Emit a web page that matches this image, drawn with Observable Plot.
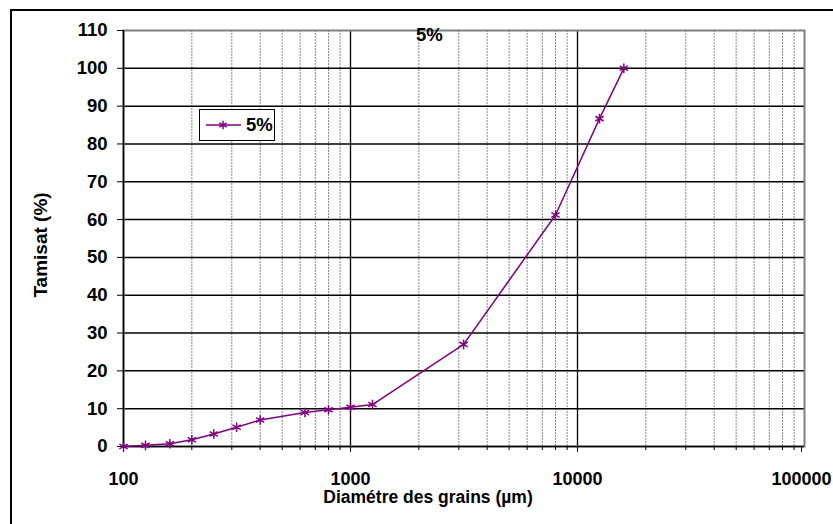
<!DOCTYPE html>
<html>
<head>
<meta charset="utf-8">
<script src="https://cdn.jsdelivr.net/npm/d3@7"></script>
<script src="https://cdn.jsdelivr.net/npm/@observablehq/plot@0.6"></script>
<style>
  html, body { margin: 0; padding: 0; background: #fff; }
  #wrap { position: relative; width: 833px; height: 524px; overflow: hidden; font-family: "Liberation Sans", Arial, sans-serif; }
  #frame { position: absolute; left: 10px; top: 9px; width: 830px; height: 530px; border: 2px solid #000; box-sizing: border-box; pointer-events: none; }
  #title { position: absolute; left: 416px; top: 25.5px; font-weight: bold; font-size: 18.5px; line-height: 18.5px; color: #000; }
  #legend { position: absolute; left: 199px; top: 109px; width: 76px; height: 32px; border: 1px solid #000; box-sizing: border-box; background: #fff; display: flex; align-items: center; }
  #legend svg { flex: none; }
  #legend span { font-weight: bold; font-size: 18.5px; line-height: 18.5px; margin-left: 5px; }
  #ylabel { position: absolute; left: 40px; top: 245px; transform: translate(-50%, -50%) rotate(-90deg); font-weight: bold; font-size: 19px; line-height: 19px; white-space: nowrap; }
  #xlabel { position: absolute; left: 428px; top: 490px; transform: translateX(-50%); font-weight: bold; font-size: 17.5px; line-height: 14px; white-space: nowrap; }
</style>
</head>
<body>
<div id="wrap">
  <div id="chart"></div>
  <div id="frame"></div>
  <div id="title"></div>
  <div id="legend"><svg width="41" height="14"><line x1="6" y1="7" x2="41" y2="7" stroke="#800080" stroke-width="1.5"/><g id="legsym"></g></svg><span></span></div>
  <div id="ylabel"></div>
  <div id="xlabel"></div>
</div>
<script>
const seriesName = "5%";
const sizes = [100, 125, 160, 200, 250, 315, 400, 630, 800, 1000, 1250, 3150, 8000, 12500, 16000];
const passing = [0, 0.3, 0.7, 1.8, 3.3, 5.1, 7, 9, 9.7, 10.4, 11.1, 27, 61.2, 86.7, 100];
const yTicks = [0, 10, 20, 30, 40, 50, 60, 70, 80, 90, 100, 110];
const xMajor = [100, 1000, 10000, 100000];
const xMinor = [200, 300, 400, 500, 600, 700, 800, 900,
                2000, 3000, 4000, 5000, 6000, 7000, 8000, 9000,
                20000, 30000, 40000, 50000, 60000, 70000, 80000, 90000];
const xTitle = "Diamétre des grains (µm)";
const yTitle = "Tamisat (%)";
const color = "#800080";

const data = sizes.map((s, i) => ({size: s, pass: passing[i]}));

const chart = Plot.plot({
  width: 833,
  height: 524,
  marginLeft: 123,
  marginRight: 29,
  marginTop: 30,
  marginBottom: 78,
  style: {fontFamily: "Liberation Sans, Arial, sans-serif", fontWeight: "bold", fontSize: "18.5px", color: "#000", background: "#fff"},
  x: {type: "log", domain: [100, 100000]},
  y: {domain: [0, 110]},
  marks: [
    Plot.ruleX(xMinor, {stroke: "#8a8a8a", strokeWidth: 1, strokeDasharray: "2,1"}),
    Plot.ruleX(xMajor.slice(1, 3), {stroke: "#000", strokeWidth: 1.3}),
    Plot.ruleY(yTicks.slice(1, 11), {stroke: "#000", strokeWidth: 1.5}),
    Plot.frame({stroke: "#808080", strokeWidth: 2}),
    Plot.ruleX([100], {stroke: "#000", strokeWidth: 1.5}),
    Plot.ruleY([0], {stroke: "#000", strokeWidth: 1.5}),
    Plot.axisY({ticks: yTicks, tickSize: 6, tickPadding: 10, label: null, fontSize: 18.5, fontWeight: "bold"}),
    Plot.axisX({ticks: xMinor, tickSize: 4, text: null, label: null}),
    Plot.axisX({ticks: xMajor.slice(0, 3), tickSize: 6, tickPadding: 19.5, tickFormat: d3.format("d"), label: null, fontSize: 18, fontWeight: "bold"}),
    Plot.axisX({ticks: xMajor.slice(3), tickSize: 6, tickPadding: 19.5, tickFormat: d3.format("d"), label: null, fontSize: 18, fontWeight: "bold", dx: -3}),
    Plot.line(data, {x: "size", y: "pass", stroke: color, strokeWidth: 1.5}),
    Plot.dot(data, {x: "size", y: "pass", symbol: "asterisk", r: 4.5, stroke: color, strokeWidth: 1.5})
  ]
});
document.getElementById("chart").appendChild(chart);
document.getElementById("title").textContent = seriesName;
document.querySelector("#legend span").textContent = seriesName;
document.getElementById("ylabel").textContent = yTitle;
document.getElementById("xlabel").textContent = xTitle;
d3.select("#legsym").append("path")
  .attr("d", d3.symbol(d3.symbolAsterisk, 50)())
  .attr("transform", "translate(23,7)")
  .attr("stroke", color).attr("stroke-width", 1.5).attr("fill", "none");
</script>
</body>
</html>
